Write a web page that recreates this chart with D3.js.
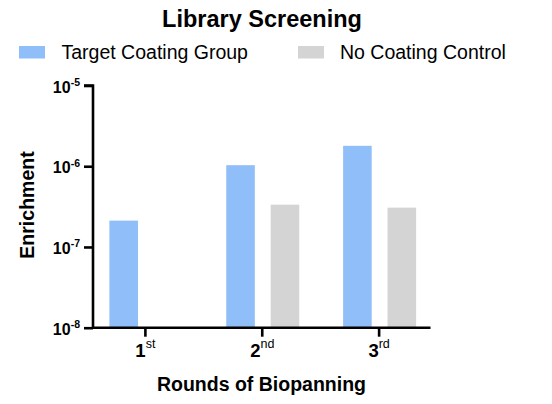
<!DOCTYPE html>
<html>
<head>
<meta charset="utf-8">
<script src="https://d3js.org/d3.v7.min.js"></script>
<style>
  body { margin: 0; background: #fff; }
  text { font-family: "Liberation Sans", Arial, sans-serif; }
</style>
</head>
<body>
<svg id="chart" width="552" height="404"></svg>
<script>
  // data
  var rounds = ["1", "2", "3"]
  var suffix = ["st", "nd", "rd"]
  var series = ["Target Coating Group", "No Coating Control"]
  var target = [2.12e-7, 1.03e-6, 1.79e-6]
  var control = [null, 3.34e-7, 3.07e-7]
  var yTicks = [1e-8, 1e-7, 1e-6, 1e-5]
  var colors = ["#90bef8", "#d4d4d4"]

  var svg = d3.select("#chart")

  var x0 = d3.scalePoint()
    .domain(rounds)
    .range([93, 430.5])
    .padding(0.444)

  var x1 = d3.scaleBand()
    .domain(series)
    .range([-35.5, 37.5])
    .paddingInner(0.357)

  var y = d3.scaleLog()
    .domain([1e-8, 1e-5])
    .range([327.7, 85.5])

  // bars
  var rows = rounds.map((r, i) => ({round: r, values: [target[i], control[i]]}))

  svg.append("g")
    .selectAll("g")
    .data(rows)
    .join("g")
    .attr("transform", d => `translate(${x0(d.round)},0)`)
    .selectAll("rect")
    .data(d => d.values.map((v, j) => ({key: series[j], v: v, j: j})).filter(e => e.v != null))
    .join("rect")
    .attr("x", d => x1(d.key))
    .attr("width", x1.bandwidth())
    .attr("y", d => y(d.v))
    .attr("height", d => y(1e-8) - y(d.v))
    .attr("fill", d => colors[d.j])

  // y axis
  var yAxis = svg.append("g")
    .attr("transform", "translate(93,0)")
    .call(d3.axisLeft(y).tickValues(yTicks).tickSize(9).tickPadding(4).tickFormat(""))
  yAxis.select(".domain").attr("d", `M-9,${y(1e-5)}H0V${y(1e-8)}`)
  yAxis.selectAll("path,line").attr("stroke", "#000").attr("stroke-width", 2.6)
  yAxis.selectAll(".tick text").remove()

  yAxis.selectAll(".tick")
    .append("text")
    .attr("x", -13)
    .attr("y", 6.5)
    .attr("text-anchor", "end")
    .attr("fill", "#000")
    .attr("font-weight", "bold")
    .attr("font-size", 16)
    .each(function (d) {
      var t = d3.select(this)
      t.append("tspan").text("10")
      t.append("tspan")
        .attr("dy", -6.5)
        .attr("font-size", 10.5)
        .text(Math.round(Math.log10(d)))
    })

  // x axis
  var xAxis = svg.append("g")
    .attr("transform", `translate(0,${y(1e-8)})`)
    .call(d3.axisBottom(x0).tickSize(9).tickFormat(""))
  xAxis.select(".domain").attr("d", "M93,0H430.5")
  xAxis.selectAll("path,line").attr("stroke", "#000").attr("stroke-width", 2.6)
  xAxis.selectAll(".tick text").remove()

  xAxis.selectAll(".tick")
    .append("text")
    .attr("y", 29)
    .attr("text-anchor", "middle")
    .attr("fill", "#000")
    .each(function (d, i) {
      var t = d3.select(this)
      t.append("tspan").attr("font-weight", "bold").attr("font-size", 18.5).text(d)
      t.append("tspan").attr("dy", -8.5).attr("font-size", 12.5).text(suffix[i])
    })

  // titles
  svg.append("text")
    .attr("x", 262)
    .attr("y", 26.5)
    .attr("text-anchor", "middle")
    .attr("font-weight", "bold")
    .attr("font-size", 23.5)
    .text("Library Screening")

  svg.append("text")
    .attr("x", 261.5)
    .attr("y", 390.5)
    .attr("text-anchor", "middle")
    .attr("font-weight", "bold")
    .attr("font-size", 19.5)
    .text("Rounds of Biopanning")

  svg.append("text")
    .attr("transform", "translate(33.5,205) rotate(-90)")
    .attr("text-anchor", "middle")
    .attr("font-weight", "bold")
    .attr("font-size", 19.5)
    .text("Enrichment")

  // legend
  var legendX = [19, 298]
  var legend = svg.append("g")
    .selectAll("g")
    .data(series)
    .join("g")
    .attr("transform", (d, i) => `translate(${legendX[i]},46)`)
  legend.append("rect")
    .attr("width", 26)
    .attr("height", 12.5)
    .attr("fill", (d, i) => colors[i])
  legend.append("text")
    .attr("x", (d, i) => i == 0 ? 42.5 : 42)
    .attr("y", 13)
    .attr("font-size", 19.5)
    .text(d => d)
</script>
</body>
</html>
